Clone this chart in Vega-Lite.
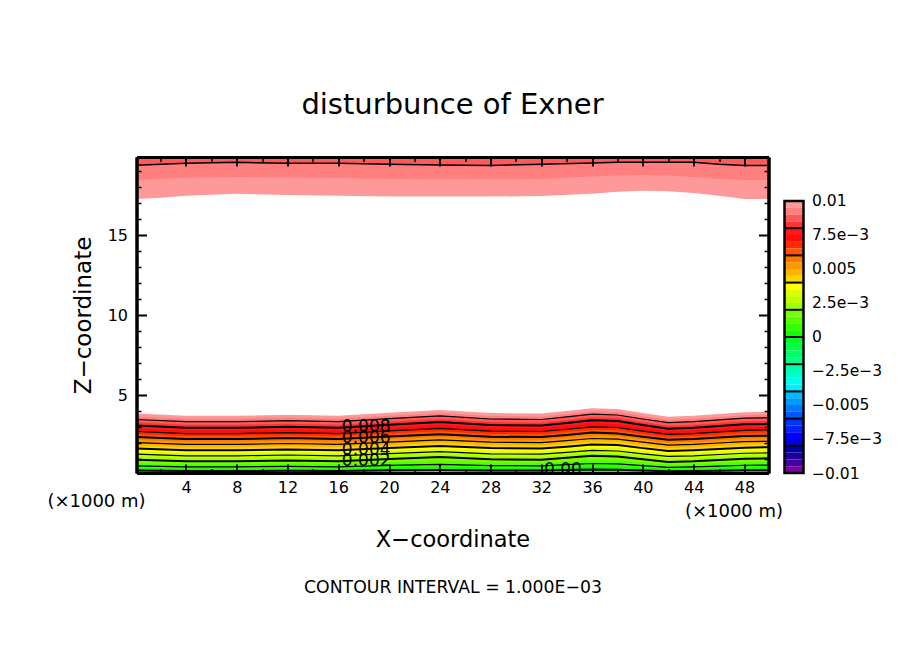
{
  "$schema": "https://vega.github.io/schema/vega-lite/v6.json",
  "description": "disturbunce of Exner, filled contours with a colour bar",
  "padding": {"left": 46.5, "top": 91, "right": 10, "bottom": 10},
  "background": "white",
  "bounds": "flush",
  "spacing": 16,
  "resolve": {"scale": {"color": "independent"}},
  "config": {
    "view": {"stroke": null},
    "font": "DejaVu Sans",
    "axis": {
      "grid": false, "domainColor": "black", "domainWidth": 3, "tickColor": "black",
      "labelFont": "DejaVu Sans", "labelFontSize": 16, "labelColor": "black",
      "titleFont": "DejaVu Sans", "titleFontWeight": "normal", "titleColor": "black",
      "labelOverlap": false, "labelFlush": false
    }
  },
  "datasets": {
    "contours": [
      {"v":0.01,"x":0.1,"z":3.84},{"v":0.01,"x":4,"z":3.70},{"v":0.01,"x":8,"z":3.70},{"v":0.01,"x":12,"z":3.77},{"v":0.01,"x":16,"z":3.70},{"v":0.01,"x":20,"z":3.89},{"v":0.01,"x":24,"z":4.06},{"v":0.01,"x":28,"z":3.87},{"v":0.01,"x":32,"z":3.84},{"v":0.01,"x":34,"z":4.00},{"v":0.01,"x":36,"z":4.17},{"v":0.01,"x":38,"z":4.12},{"v":0.01,"x":40,"z":3.87},{"v":0.01,"x":42,"z":3.64},{"v":0.01,"x":44,"z":3.70},{"v":0.01,"x":46,"z":3.81},{"v":0.01,"x":48,"z":3.92},{"v":0.01,"x":49.9,"z":3.95},
      {"v":0.0095,"x":0.1,"z":3.66},{"v":0.0095,"x":4,"z":3.52},{"v":0.0095,"x":8,"z":3.52},{"v":0.0095,"x":12,"z":3.59},{"v":0.0095,"x":16,"z":3.52},{"v":0.0095,"x":20,"z":3.71},{"v":0.0095,"x":24,"z":3.88},{"v":0.0095,"x":28,"z":3.69},{"v":0.0095,"x":32,"z":3.66},{"v":0.0095,"x":34,"z":3.82},{"v":0.0095,"x":36,"z":3.99},{"v":0.0095,"x":38,"z":3.94},{"v":0.0095,"x":40,"z":3.69},{"v":0.0095,"x":42,"z":3.46},{"v":0.0095,"x":44,"z":3.52},{"v":0.0095,"x":46,"z":3.63},{"v":0.0095,"x":48,"z":3.74},{"v":0.0095,"x":49.9,"z":3.77},
      {"v":0.009,"x":0.1,"z":3.47},{"v":0.009,"x":4,"z":3.33},{"v":0.009,"x":8,"z":3.33},{"v":0.009,"x":12,"z":3.40},{"v":0.009,"x":16,"z":3.33},{"v":0.009,"x":20,"z":3.52},{"v":0.009,"x":24,"z":3.69},{"v":0.009,"x":28,"z":3.50},{"v":0.009,"x":32,"z":3.47},{"v":0.009,"x":34,"z":3.63},{"v":0.009,"x":36,"z":3.80},{"v":0.009,"x":38,"z":3.75},{"v":0.009,"x":40,"z":3.50},{"v":0.009,"x":42,"z":3.27},{"v":0.009,"x":44,"z":3.33},{"v":0.009,"x":46,"z":3.44},{"v":0.009,"x":48,"z":3.55},{"v":0.009,"x":49.9,"z":3.58},
      {"v":0.0085,"x":0.1,"z":3.28},{"v":0.0085,"x":4,"z":3.14},{"v":0.0085,"x":8,"z":3.14},{"v":0.0085,"x":12,"z":3.21},{"v":0.0085,"x":16,"z":3.14},{"v":0.0085,"x":20,"z":3.33},{"v":0.0085,"x":24,"z":3.50},{"v":0.0085,"x":28,"z":3.31},{"v":0.0085,"x":32,"z":3.28},{"v":0.0085,"x":34,"z":3.44},{"v":0.0085,"x":36,"z":3.61},{"v":0.0085,"x":38,"z":3.56},{"v":0.0085,"x":40,"z":3.31},{"v":0.0085,"x":42,"z":3.08},{"v":0.0085,"x":44,"z":3.14},{"v":0.0085,"x":46,"z":3.25},{"v":0.0085,"x":48,"z":3.36},{"v":0.0085,"x":49.9,"z":3.39},
      {"v":0.008,"x":0.1,"z":3.09},{"v":0.008,"x":4,"z":2.95},{"v":0.008,"x":8,"z":2.95},{"v":0.008,"x":12,"z":3.02},{"v":0.008,"x":16,"z":2.95},{"v":0.008,"x":20,"z":3.14},{"v":0.008,"x":24,"z":3.31},{"v":0.008,"x":28,"z":3.12},{"v":0.008,"x":32,"z":3.09},{"v":0.008,"x":34,"z":3.25},{"v":0.008,"x":36,"z":3.42},{"v":0.008,"x":38,"z":3.37},{"v":0.008,"x":40,"z":3.12},{"v":0.008,"x":42,"z":2.89},{"v":0.008,"x":44,"z":2.95},{"v":0.008,"x":46,"z":3.06},{"v":0.008,"x":48,"z":3.17},{"v":0.008,"x":49.9,"z":3.20},
      {"v":0.0075,"x":0.1,"z":2.91},{"v":0.0075,"x":4,"z":2.78},{"v":0.0075,"x":8,"z":2.78},{"v":0.0075,"x":12,"z":2.84},{"v":0.0075,"x":16,"z":2.78},{"v":0.0075,"x":20,"z":2.96},{"v":0.0075,"x":24,"z":3.12},{"v":0.0075,"x":28,"z":2.94},{"v":0.0075,"x":32,"z":2.91},{"v":0.0075,"x":34,"z":3.06},{"v":0.0075,"x":36,"z":3.22},{"v":0.0075,"x":38,"z":3.17},{"v":0.0075,"x":40,"z":2.94},{"v":0.0075,"x":42,"z":2.72},{"v":0.0075,"x":44,"z":2.78},{"v":0.0075,"x":46,"z":2.88},{"v":0.0075,"x":48,"z":2.98},{"v":0.0075,"x":49.9,"z":3.01},
      {"v":0.007,"x":0.1,"z":2.72},{"v":0.007,"x":4,"z":2.59},{"v":0.007,"x":8,"z":2.59},{"v":0.007,"x":12,"z":2.65},{"v":0.007,"x":16,"z":2.59},{"v":0.007,"x":20,"z":2.76},{"v":0.007,"x":24,"z":2.92},{"v":0.007,"x":28,"z":2.74},{"v":0.007,"x":32,"z":2.72},{"v":0.007,"x":34,"z":2.86},{"v":0.007,"x":36,"z":3.01},{"v":0.007,"x":38,"z":2.97},{"v":0.007,"x":40,"z":2.74},{"v":0.007,"x":42,"z":2.54},{"v":0.007,"x":44,"z":2.59},{"v":0.007,"x":46,"z":2.69},{"v":0.007,"x":48,"z":2.79},{"v":0.007,"x":49.9,"z":2.82},
      {"v":0.0065,"x":0.1,"z":2.55},{"v":0.0065,"x":4,"z":2.42},{"v":0.0065,"x":8,"z":2.42},{"v":0.0065,"x":12,"z":2.49},{"v":0.0065,"x":16,"z":2.42},{"v":0.0065,"x":20,"z":2.59},{"v":0.0065,"x":24,"z":2.74},{"v":0.0065,"x":28,"z":2.57},{"v":0.0065,"x":32,"z":2.55},{"v":0.0065,"x":34,"z":2.69},{"v":0.0065,"x":36,"z":2.83},{"v":0.0065,"x":38,"z":2.79},{"v":0.0065,"x":40,"z":2.57},{"v":0.0065,"x":42,"z":2.37},{"v":0.0065,"x":44,"z":2.42},{"v":0.0065,"x":46,"z":2.52},{"v":0.0065,"x":48,"z":2.62},{"v":0.0065,"x":49.9,"z":2.64},
      {"v":0.006,"x":0.1,"z":2.37},{"v":0.006,"x":4,"z":2.25},{"v":0.006,"x":8,"z":2.25},{"v":0.006,"x":12,"z":2.31},{"v":0.006,"x":16,"z":2.25},{"v":0.006,"x":20,"z":2.41},{"v":0.006,"x":24,"z":2.55},{"v":0.006,"x":28,"z":2.39},{"v":0.006,"x":32,"z":2.37},{"v":0.006,"x":34,"z":2.50},{"v":0.006,"x":36,"z":2.65},{"v":0.006,"x":38,"z":2.60},{"v":0.006,"x":40,"z":2.39},{"v":0.006,"x":42,"z":2.20},{"v":0.006,"x":44,"z":2.25},{"v":0.006,"x":46,"z":2.34},{"v":0.006,"x":48,"z":2.43},{"v":0.006,"x":49.9,"z":2.46},
      {"v":0.0055,"x":0.1,"z":2.19},{"v":0.0055,"x":4,"z":2.08},{"v":0.0055,"x":8,"z":2.08},{"v":0.0055,"x":12,"z":2.14},{"v":0.0055,"x":16,"z":2.08},{"v":0.0055,"x":20,"z":2.23},{"v":0.0055,"x":24,"z":2.37},{"v":0.0055,"x":28,"z":2.22},{"v":0.0055,"x":32,"z":2.19},{"v":0.0055,"x":34,"z":2.32},{"v":0.0055,"x":36,"z":2.46},{"v":0.0055,"x":38,"z":2.42},{"v":0.0055,"x":40,"z":2.22},{"v":0.0055,"x":42,"z":2.03},{"v":0.0055,"x":44,"z":2.08},{"v":0.0055,"x":46,"z":2.17},{"v":0.0055,"x":48,"z":2.26},{"v":0.0055,"x":49.9,"z":2.28},
      {"v":0.005,"x":0.1,"z":2.02},{"v":0.005,"x":4,"z":1.91},{"v":0.005,"x":8,"z":1.91},{"v":0.005,"x":12,"z":1.97},{"v":0.005,"x":16,"z":1.91},{"v":0.005,"x":20,"z":2.06},{"v":0.005,"x":24,"z":2.20},{"v":0.005,"x":28,"z":2.05},{"v":0.005,"x":32,"z":2.02},{"v":0.005,"x":34,"z":2.15},{"v":0.005,"x":36,"z":2.28},{"v":0.005,"x":38,"z":2.24},{"v":0.005,"x":40,"z":2.05},{"v":0.005,"x":42,"z":1.87},{"v":0.005,"x":44,"z":1.91},{"v":0.005,"x":46,"z":2.00},{"v":0.005,"x":48,"z":2.09},{"v":0.005,"x":49.9,"z":2.11},
      {"v":0.0045,"x":0.1,"z":1.83},{"v":0.0045,"x":4,"z":1.73},{"v":0.0045,"x":8,"z":1.73},{"v":0.0045,"x":12,"z":1.78},{"v":0.0045,"x":16,"z":1.73},{"v":0.0045,"x":20,"z":1.87},{"v":0.0045,"x":24,"z":2.00},{"v":0.0045,"x":28,"z":1.86},{"v":0.0045,"x":32,"z":1.83},{"v":0.0045,"x":34,"z":1.95},{"v":0.0045,"x":36,"z":2.08},{"v":0.0045,"x":38,"z":2.05},{"v":0.0045,"x":40,"z":1.86},{"v":0.0045,"x":42,"z":1.68},{"v":0.0045,"x":44,"z":1.73},{"v":0.0045,"x":46,"z":1.81},{"v":0.0045,"x":48,"z":1.89},{"v":0.0045,"x":49.9,"z":1.92},
      {"v":0.004,"x":0.1,"z":1.65},{"v":0.004,"x":4,"z":1.55},{"v":0.004,"x":8,"z":1.55},{"v":0.004,"x":12,"z":1.60},{"v":0.004,"x":16,"z":1.55},{"v":0.004,"x":20,"z":1.69},{"v":0.004,"x":24,"z":1.82},{"v":0.004,"x":28,"z":1.68},{"v":0.004,"x":32,"z":1.65},{"v":0.004,"x":34,"z":1.77},{"v":0.004,"x":36,"z":1.90},{"v":0.004,"x":38,"z":1.87},{"v":0.004,"x":40,"z":1.68},{"v":0.004,"x":42,"z":1.50},{"v":0.004,"x":44,"z":1.55},{"v":0.004,"x":46,"z":1.63},{"v":0.004,"x":48,"z":1.71},{"v":0.004,"x":49.9,"z":1.74},
      {"v":0.0035,"x":0.1,"z":1.47},{"v":0.0035,"x":4,"z":1.37},{"v":0.0035,"x":8,"z":1.37},{"v":0.0035,"x":12,"z":1.42},{"v":0.0035,"x":16,"z":1.37},{"v":0.0035,"x":20,"z":1.51},{"v":0.0035,"x":24,"z":1.63},{"v":0.0035,"x":28,"z":1.49},{"v":0.0035,"x":32,"z":1.47},{"v":0.0035,"x":34,"z":1.59},{"v":0.0035,"x":36,"z":1.71},{"v":0.0035,"x":38,"z":1.67},{"v":0.0035,"x":40,"z":1.49},{"v":0.0035,"x":42,"z":1.33},{"v":0.0035,"x":44,"z":1.37},{"v":0.0035,"x":46,"z":1.45},{"v":0.0035,"x":48,"z":1.53},{"v":0.0035,"x":49.9,"z":1.55},
      {"v":0.003,"x":0.1,"z":1.30},{"v":0.003,"x":4,"z":1.20},{"v":0.003,"x":8,"z":1.20},{"v":0.003,"x":12,"z":1.25},{"v":0.003,"x":16,"z":1.20},{"v":0.003,"x":20,"z":1.34},{"v":0.003,"x":24,"z":1.46},{"v":0.003,"x":28,"z":1.32},{"v":0.003,"x":32,"z":1.30},{"v":0.003,"x":34,"z":1.42},{"v":0.003,"x":36,"z":1.54},{"v":0.003,"x":38,"z":1.50},{"v":0.003,"x":40,"z":1.32},{"v":0.003,"x":42,"z":1.16},{"v":0.003,"x":44,"z":1.20},{"v":0.003,"x":46,"z":1.28},{"v":0.003,"x":48,"z":1.36},{"v":0.003,"x":49.9,"z":1.38},
      {"v":0.0025,"x":0.1,"z":1.13},{"v":0.0025,"x":4,"z":1.03},{"v":0.0025,"x":8,"z":1.03},{"v":0.0025,"x":12,"z":1.08},{"v":0.0025,"x":16,"z":1.03},{"v":0.0025,"x":20,"z":1.17},{"v":0.0025,"x":24,"z":1.29},{"v":0.0025,"x":28,"z":1.15},{"v":0.0025,"x":32,"z":1.13},{"v":0.0025,"x":34,"z":1.25},{"v":0.0025,"x":36,"z":1.37},{"v":0.0025,"x":38,"z":1.33},{"v":0.0025,"x":40,"z":1.15},{"v":0.0025,"x":42,"z":0.99},{"v":0.0025,"x":44,"z":1.03},{"v":0.0025,"x":46,"z":1.11},{"v":0.0025,"x":48,"z":1.19},{"v":0.0025,"x":49.9,"z":1.21},
      {"v":0.002,"x":0.1,"z":0.96},{"v":0.002,"x":4,"z":0.86},{"v":0.002,"x":8,"z":0.86},{"v":0.002,"x":12,"z":0.91},{"v":0.002,"x":16,"z":0.86},{"v":0.002,"x":20,"z":1.00},{"v":0.002,"x":24,"z":1.12},{"v":0.002,"x":28,"z":0.98},{"v":0.002,"x":32,"z":0.96},{"v":0.002,"x":34,"z":1.08},{"v":0.002,"x":36,"z":1.20},{"v":0.002,"x":38,"z":1.16},{"v":0.002,"x":40,"z":0.98},{"v":0.002,"x":42,"z":0.82},{"v":0.002,"x":44,"z":0.86},{"v":0.002,"x":46,"z":0.94},{"v":0.002,"x":48,"z":1.02},{"v":0.002,"x":49.9,"z":1.04},
      {"v":0.0015,"x":0.1,"z":0.77},{"v":0.0015,"x":4,"z":0.69},{"v":0.0015,"x":8,"z":0.69},{"v":0.0015,"x":12,"z":0.73},{"v":0.0015,"x":16,"z":0.69},{"v":0.0015,"x":20,"z":0.79},{"v":0.0015,"x":24,"z":0.89},{"v":0.0015,"x":28,"z":0.78},{"v":0.0015,"x":32,"z":0.77},{"v":0.0015,"x":34,"z":0.85},{"v":0.0015,"x":36,"z":0.95},{"v":0.0015,"x":38,"z":0.92},{"v":0.0015,"x":40,"z":0.78},{"v":0.0015,"x":42,"z":0.66},{"v":0.0015,"x":44,"z":0.69},{"v":0.0015,"x":46,"z":0.75},{"v":0.0015,"x":48,"z":0.81},{"v":0.0015,"x":49.9,"z":0.83},
      {"v":0.001,"x":0.1,"z":0.57},{"v":0.001,"x":4,"z":0.51},{"v":0.001,"x":8,"z":0.51},{"v":0.001,"x":12,"z":0.54},{"v":0.001,"x":16,"z":0.51},{"v":0.001,"x":20,"z":0.60},{"v":0.001,"x":24,"z":0.67},{"v":0.001,"x":28,"z":0.59},{"v":0.001,"x":32,"z":0.57},{"v":0.001,"x":34,"z":0.65},{"v":0.001,"x":36,"z":0.72},{"v":0.001,"x":38,"z":0.70},{"v":0.001,"x":40,"z":0.59},{"v":0.001,"x":42,"z":0.48},{"v":0.001,"x":44,"z":0.51},{"v":0.001,"x":46,"z":0.56},{"v":0.001,"x":48,"z":0.61},{"v":0.001,"x":49.9,"z":0.62},
      {"v":0.0005,"x":0.1,"z":0.43},{"v":0.0005,"x":4,"z":0.39},{"v":0.0005,"x":8,"z":0.39},{"v":0.0005,"x":12,"z":0.41},{"v":0.0005,"x":16,"z":0.39},{"v":0.0005,"x":20,"z":0.44},{"v":0.0005,"x":24,"z":0.50},{"v":0.0005,"x":28,"z":0.44},{"v":0.0005,"x":32,"z":0.43},{"v":0.0005,"x":34,"z":0.48},{"v":0.0005,"x":36,"z":0.53},{"v":0.0005,"x":38,"z":0.51},{"v":0.0005,"x":40,"z":0.44},{"v":0.0005,"x":42,"z":0.37},{"v":0.0005,"x":44,"z":0.39},{"v":0.0005,"x":46,"z":0.42},{"v":0.0005,"x":48,"z":0.45},{"v":0.0005,"x":49.9,"z":0.46},
      {"v":0,"x":0.1,"z":0.28},{"v":0,"x":4,"z":0.25},{"v":0,"x":8,"z":0.25},{"v":0,"x":12,"z":0.26},{"v":0,"x":16,"z":0.25},{"v":0,"x":20,"z":0.29},{"v":0,"x":24,"z":0.32},{"v":0,"x":28,"z":0.28},{"v":0,"x":32,"z":0.28},{"v":0,"x":34,"z":0.31},{"v":0,"x":36,"z":0.34},{"v":0,"x":38,"z":0.33},{"v":0,"x":40,"z":0.28},{"v":0,"x":42,"z":0.24},{"v":0,"x":44,"z":0.25},{"v":0,"x":46,"z":0.27},{"v":0,"x":48,"z":0.29},{"v":0,"x":49.9,"z":0.30}
    ],
    "upper": [
      {"v":0.01,"x":0.1,"z":17.25},{"v":0.01,"x":2,"z":17.33},{"v":0.01,"x":4,"z":17.46},{"v":0.01,"x":8,"z":17.58},{"v":0.01,"x":12,"z":17.50},{"v":0.01,"x":16,"z":17.46},{"v":0.01,"x":20,"z":17.40},{"v":0.01,"x":24,"z":17.40},{"v":0.01,"x":28,"z":17.40},{"v":0.01,"x":32,"z":17.44},{"v":0.01,"x":36,"z":17.58},{"v":0.01,"x":38,"z":17.71},{"v":0.01,"x":40,"z":17.77},{"v":0.01,"x":42,"z":17.73},{"v":0.01,"x":44,"z":17.63},{"v":0.01,"x":46,"z":17.46},{"v":0.01,"x":48,"z":17.25},{"v":0.01,"x":49.9,"z":17.25},
      {"v":0.0095,"x":0.1,"z":18.44},{"v":0.0095,"x":2,"z":18.52},{"v":0.0095,"x":4,"z":18.58},{"v":0.0095,"x":8,"z":18.62},{"v":0.0095,"x":12,"z":18.60},{"v":0.0095,"x":16,"z":18.56},{"v":0.0095,"x":20,"z":18.50},{"v":0.0095,"x":24,"z":18.50},{"v":0.0095,"x":28,"z":18.50},{"v":0.0095,"x":32,"z":18.50},{"v":0.0095,"x":36,"z":18.65},{"v":0.0095,"x":38,"z":18.72},{"v":0.0095,"x":40,"z":18.75},{"v":0.0095,"x":42,"z":18.72},{"v":0.0095,"x":44,"z":18.62},{"v":0.0095,"x":46,"z":18.52},{"v":0.0095,"x":48,"z":18.44},{"v":0.0095,"x":49.9,"z":18.44},
      {"v":0.009,"x":0.1,"z":19.36},{"v":0.009,"x":2,"z":19.42},{"v":0.009,"x":4,"z":19.48},{"v":0.009,"x":8,"z":19.54},{"v":0.009,"x":12,"z":19.48},{"v":0.009,"x":16,"z":19.48},{"v":0.009,"x":20,"z":19.42},{"v":0.009,"x":24,"z":19.38},{"v":0.009,"x":28,"z":19.35},{"v":0.009,"x":32,"z":19.42},{"v":0.009,"x":36,"z":19.50},{"v":0.009,"x":38,"z":19.54},{"v":0.009,"x":40,"z":19.54},{"v":0.009,"x":42,"z":19.54},{"v":0.009,"x":44,"z":19.54},{"v":0.009,"x":46,"z":19.42},{"v":0.009,"x":48,"z":19.35},{"v":0.009,"x":49.9,"z":19.35}
    ],
    "labels": [
      {"x":18.2,"z":3.02,"label":"0.008"},
      {"x":18.2,"z":2.31,"label":"0.006"},
      {"x":18.2,"z":1.56,"label":"0.004"},
      {"x":18.2,"z":0.88,"label":"0.002"},
      {"x":33.7,"z":0.31,"label":"0.00"}
    ],
    "bands": [
      {"lo":0.0095,"hi":0.01},{"lo":0.009,"hi":0.0095},{"lo":0.0085,"hi":0.009},{"lo":0.008,"hi":0.0085},
      {"lo":0.0075,"hi":0.008},{"lo":0.007,"hi":0.0075},{"lo":0.0065,"hi":0.007},{"lo":0.006,"hi":0.0065},
      {"lo":0.0055,"hi":0.006},{"lo":0.005,"hi":0.0055},{"lo":0.0045,"hi":0.005},{"lo":0.004,"hi":0.0045},
      {"lo":0.0035,"hi":0.004},{"lo":0.003,"hi":0.0035},{"lo":0.0025,"hi":0.003},{"lo":0.002,"hi":0.0025},
      {"lo":0.0015,"hi":0.002},{"lo":0.001,"hi":0.0015},{"lo":0.0005,"hi":0.001},{"lo":0,"hi":0.0005},
      {"lo":-0.0005,"hi":0},{"lo":-0.001,"hi":-0.0005},{"lo":-0.0015,"hi":-0.001},{"lo":-0.002,"hi":-0.0015},
      {"lo":-0.0025,"hi":-0.002},{"lo":-0.003,"hi":-0.0025},{"lo":-0.0035,"hi":-0.003},{"lo":-0.004,"hi":-0.0035},
      {"lo":-0.0045,"hi":-0.004},{"lo":-0.005,"hi":-0.0045},{"lo":-0.0055,"hi":-0.005},{"lo":-0.006,"hi":-0.0055},
      {"lo":-0.0065,"hi":-0.006},{"lo":-0.007,"hi":-0.0065},{"lo":-0.0075,"hi":-0.007},{"lo":-0.008,"hi":-0.0075},
      {"lo":-0.0085,"hi":-0.008},{"lo":-0.009,"hi":-0.0085},{"lo":-0.0095,"hi":-0.009},{"lo":-0.01,"hi":-0.0095}
    ],
    "levels": [
      {"v":0.008},{"v":0.006},{"v":0.004},{"v":0.002},{"v":0},{"v":-0.002},{"v":-0.004},{"v":-0.006},{"v":-0.008}
    ],
    "frame": [{"lo":-0.01,"hi":0.01}]
  },
  "hconcat": [
    {
      "width": 632,
      "height": 316,
      "title": {"text": "disturbunce of Exner", "fontSize": 29, "font": "DejaVu Sans", "fontWeight": "normal", "color": "black", "anchor": "middle", "offset": 36},
      "resolve": {"axis": {"x": "independent", "y": "independent"}},
      "layer": [
        {
          "data": {"name": "contours"},
          "transform": [{"filter": "datum.v > 0"}],
          "mark": {"type": "area"},
          "encoding": {
            "x": {"field": "x", "type": "quantitative", "scale": {"domain": [0.1, 49.9], "nice": false, "zero": false},
              "axis": {"orient": "bottom", "zindex": 1, "values": [4, 8, 12, 16, 20, 24, 28, 32, 36, 40, 44, 48], "tickSize": -9, "tickWidth": 2, "labelPadding": 15,
                "title": "X−coordinate", "titleFontSize": 22.5, "titleX": 316, "titleY": 66, "titleAlign": "center", "titleBaseline": "middle"}},
            "y": {"field": "z", "type": "quantitative", "stack": null, "scale": {"domain": [0.125, 19.875], "nice": false, "zero": false},
              "axis": {"orient": "left", "zindex": 1, "values": [5, 10, 15], "tickSize": -10, "tickWidth": 2, "labelPadding": 19,
                "title": "Z−coordinate", "titleFontSize": 23, "titleX": -53, "titleY": 158, "titleAngle": -90, "titleAlign": "center", "titleBaseline": "middle"}},
            "y2": {"datum": 0.125},
            "color": {"field": "v", "type": "ordinal", "legend": null,
              "scale": {
                "domain": [0.01, 0.0095, 0.009, 0.0085, 0.008, 0.0075, 0.007, 0.0065, 0.006, 0.0055, 0.005, 0.0045, 0.004, 0.0035, 0.003, 0.0025, 0.002, 0.0015, 0.001, 0.0005],
                "range": ["#ff9999", "#ff7f7f", "#ff5959", "#ff3333", "#ff1a1a", "#ff0d0d", "#ff2a00", "#ff5500", "#ff7700", "#ff9900", "#ffb300", "#ffd500", "#ffff00", "#d9ff00", "#bfff00", "#9fff00", "#77ff00", "#55ff00", "#33ff00", "#11ff00"]
              }}
          }
        },
        {
          "data": {"name": "upper"},
          "mark": {"type": "area"},
          "encoding": {
            "x": {"field": "x", "type": "quantitative",
              "axis": {"orient": "top", "zindex": 1, "values": [4, 8, 12, 16, 20, 24, 28, 32, 36, 40, 44, 48], "tickSize": -9, "tickWidth": 2, "labels": false,
                "title": "CONTOUR INTERVAL = 1.000E−03", "titleFontSize": 17.3, "titleX": 316, "titleY": 430, "titleAlign": "center", "titleBaseline": "middle"}},
            "y": {"field": "z", "type": "quantitative", "stack": null,
              "axis": {"orient": "right", "zindex": 1, "values": [5, 10, 15], "tickSize": -10, "tickWidth": 2, "labels": false, "title": null}},
            "y2": {"datum": 19.875},
            "color": {"field": "v", "type": "ordinal", "legend": null}
          }
        },
        {
          "data": {"name": "contours"},
          "transform": [{"filter": {"field": "v", "oneOf": [0.009, 0.007, 0.005, 0.003, 0.001]}}],
          "mark": {"type": "line", "color": "black", "strokeWidth": 1.2},
          "encoding": {
            "x": {"field": "x", "type": "quantitative",
              "axis": {"orient": "bottom", "zindex": 1, "values": [2, 6, 10, 14, 18, 22, 26, 30, 34, 38, 42, 46], "tickSize": -4.5, "tickWidth": 1.5, "labels": false,
                "title": "(×1000 m)", "titleFontSize": 18, "titleX": -40.5, "titleY": 28, "titleAlign": "center", "titleBaseline": "middle"}},
            "y": {"field": "z", "type": "quantitative",
              "axis": {"orient": "left", "zindex": 1, "tickCount": 20, "values": [1, 2, 3, 4, 6, 7, 8, 9, 11, 12, 13, 14, 16, 17, 18, 19], "tickSize": -4.5, "tickWidth": 1.5, "labels": false, "title": null}},
            "detail": {"field": "v"}
          }
        },
        {
          "data": {"name": "contours"},
          "transform": [{"filter": {"field": "v", "oneOf": [0.008, 0.006, 0.004, 0.002, 0]}}],
          "mark": {"type": "line", "color": "black", "strokeWidth": 2},
          "encoding": {
            "x": {"field": "x", "type": "quantitative",
              "axis": {"orient": "top", "zindex": 1, "values": [2, 6, 10, 14, 18, 22, 26, 30, 34, 38, 42, 46], "tickSize": -4.5, "tickWidth": 1.5, "labels": false,
                "title": "(×1000 m)", "titleFontSize": 18, "titleX": 597, "titleY": 354, "titleAlign": "center", "titleBaseline": "middle"}},
            "y": {"field": "z", "type": "quantitative",
              "axis": {"orient": "right", "zindex": 1, "tickCount": 20, "values": [1, 2, 3, 4, 6, 7, 8, 9, 11, 12, 13, 14, 16, 17, 18, 19], "tickSize": -4.5, "tickWidth": 1.5, "labels": false, "title": null}},
            "detail": {"field": "v"}
          }
        },
        {
          "data": {"name": "upper"},
          "transform": [{"filter": "datum.v == 0.009"}],
          "mark": {"type": "line", "color": "black", "strokeWidth": 1.5},
          "encoding": {
            "x": {"field": "x", "type": "quantitative", "axis": null},
            "y": {"field": "z", "type": "quantitative", "axis": null}
          }
        },
        {
          "data": {"name": "labels"},
          "mark": {"type": "text", "fontSize": 17, "font": "DejaVu Sans", "color": "black", "baseline": "middle", "align": "center"},
          "encoding": {
            "x": {"field": "x", "type": "quantitative", "axis": null},
            "y": {"field": "z", "type": "quantitative", "axis": null},
            "text": {"field": "label"}
          }
        }
      ]
    },
    {
      "width": 19,
      "height": 316,
      "layer": [
        {
          "data": {"name": "bands"},
          "mark": {"type": "rect"},
          "encoding": {
            "y": {"field": "lo", "type": "quantitative", "scale": {"domain": [-0.01, 0.013235], "nice": false, "zero": false},
              "axis": {"orient": "right", "tickCount": 20, "values": [-0.01, -0.0075, -0.005, -0.0025, 0, 0.0025, 0.005, 0.0075, 0.01], "domain": false, "ticks": false, "title": null, "labelPadding": 8, "labelFontSize": 15.5, "labelAlign": "left",
                "labelExpr": "(datum.value < 0 ? '−' : '') + (abs(datum.value) > 0.009 ? '0.01' : abs(datum.value) > 0.006 ? '7.5e−3' : abs(datum.value) > 0.004 ? '0.005' : abs(datum.value) > 0.001 ? '2.5e−3' : '0')"}},
            "y2": {"field": "hi"},
            "color": {"field": "hi", "type": "ordinal", "legend": null,
              "scale": {
                "domain": [0.01, 0.0095, 0.009, 0.0085, 0.008, 0.0075, 0.007, 0.0065, 0.006, 0.0055, 0.005, 0.0045, 0.004, 0.0035, 0.003, 0.0025, 0.002, 0.0015, 0.001, 0.0005, 0, -0.0005, -0.001, -0.0015, -0.002, -0.0025, -0.003, -0.0035, -0.004, -0.0045, -0.005, -0.0055, -0.006, -0.0065, -0.007, -0.0075, -0.008, -0.0085, -0.009, -0.0095],
                "range": ["#ff9999", "#ff7f7f", "#ff5959", "#ff3333", "#ff1a1a", "#ff0d0d", "#ff2a00", "#ff5500", "#ff7700", "#ff9900", "#ffb300", "#ffd500", "#ffff00", "#d9ff00", "#bfff00", "#9fff00", "#77ff00", "#55ff00", "#33ff00", "#11ff00", "#00ff22", "#00ff44", "#00ff66", "#00ff88", "#00ffaa", "#00ffcc", "#00ffee", "#00eeff", "#00bbff", "#0099ff", "#0077ff", "#0055ff", "#0033ff", "#0022ff", "#0000ff", "#0000dd", "#0000aa", "#1a0099", "#4400a0", "#7f00a0"]
              }}
          }
        },
        {
          "data": {"name": "levels"},
          "mark": {"type": "rule", "color": "black", "strokeWidth": 2},
          "encoding": {"y": {"field": "v", "type": "quantitative"}}
        },
        {
          "data": {"name": "frame"},
          "mark": {"type": "rect", "fillOpacity": 0, "stroke": "black", "strokeWidth": 2.5},
          "encoding": {
            "y": {"field": "lo", "type": "quantitative"},
            "y2": {"field": "hi"}
          }
        }
      ]
    }
  ]
}
